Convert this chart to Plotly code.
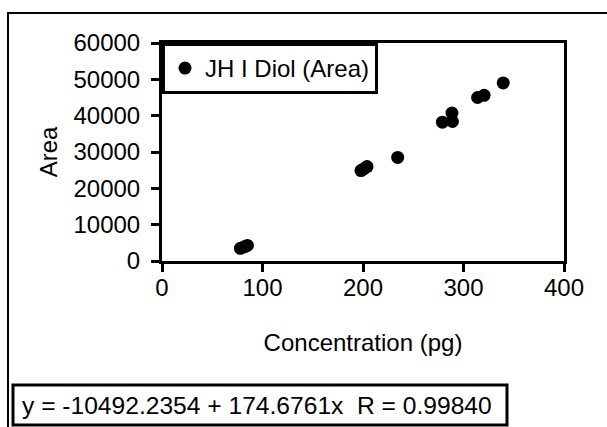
import plotly.graph_objects as go

# Data
concentration_pg = [78, 82, 85, 198, 201, 204, 234.5, 279, 289, 288.5, 314, 320.5, 339.5]
area = [3500, 3900, 4300, 24900, 25400, 26000, 28500, 38200, 38400, 40700, 45000, 45600, 49000]
series_name = "JH I Diol (Area)"
x_ticks = [0, 100, 200, 300, 400]
y_ticks = [0, 10000, 20000, 30000, 40000, 50000, 60000]
y_tick_labels = ["0", "10000", "20000", "30000", "40000", "50000", "60000"]
equation_text = "y = -10492.2354 + 174.6761x\u00a0\u00a0R = 0.99840"

W, H = 607, 427
L, R, T, B = 162, 564, 43, 261  # plot area pixels
FONT = "Liberation Sans"

def px_x(p):
    return (p - L) / (R - L)

def px_y(p):
    return (B - p) / (B - T)

fig = go.Figure()
fig.add_trace(go.Scatter(
    x=concentration_pg, y=area, mode="markers", name=series_name,
    marker=dict(color="black", size=13),
))

axis_common = dict(
    showline=True, linecolor="black", linewidth=3, mirror=True,
    ticks="outside", ticklen=8, tickwidth=3, tickcolor="black",
    showgrid=False, zeroline=False,
    tickfont=dict(family=FONT, size=24, color="black"),
)

fig.update_layout(
    width=W, height=H,
    margin=dict(l=L, r=W - R, t=T, b=H - B, pad=0),
    paper_bgcolor="white", plot_bgcolor="white",
    font=dict(family=FONT, size=24, color="black"),
    xaxis=dict(range=[0, 400], tickvals=x_ticks, ticklabelstandoff=-5,
               title=dict(text="Concentration (pg)", font=dict(family=FONT, size=24), standoff=35),
               **axis_common),
    yaxis=dict(range=[0, 60000], tickvals=y_ticks, ticktext=y_tick_labels, ticklabelstandoff=6,
               title=dict(text="Area", font=dict(family=FONT, size=24), standoff=10),
               **axis_common),
    showlegend=True,
    legend=dict(x=0, y=1, xanchor="left", yanchor="top",
                bordercolor="black", borderwidth=3, bgcolor="white",
                font=dict(family=FONT, size=24, color="black"),
                itemwidth=30, tracegroupgap=0),
    shapes=[
        dict(type="rect", xref="paper", yref="paper",
             x0=px_x(8), x1=px_x(615), y0=px_y(435), y1=px_y(13),
             line=dict(color="black", width=2), fillcolor="rgba(0,0,0,0)", layer="below"),
        dict(type="rect", xref="paper", yref="paper",
             x0=px_x(13), x1=px_x(507), y0=px_y(425), y1=px_y(385),
             line=dict(color="black", width=3), fillcolor="white", layer="below"),
    ],
    annotations=[dict(xref="paper", yref="paper", x=px_x(20), y=px_y(405),
                      xanchor="left", yanchor="middle", showarrow=False,
                      text=equation_text, align="left",
                      font=dict(family=FONT, size=24.6, color="black"))],
)

fig.write_html("out.html")
